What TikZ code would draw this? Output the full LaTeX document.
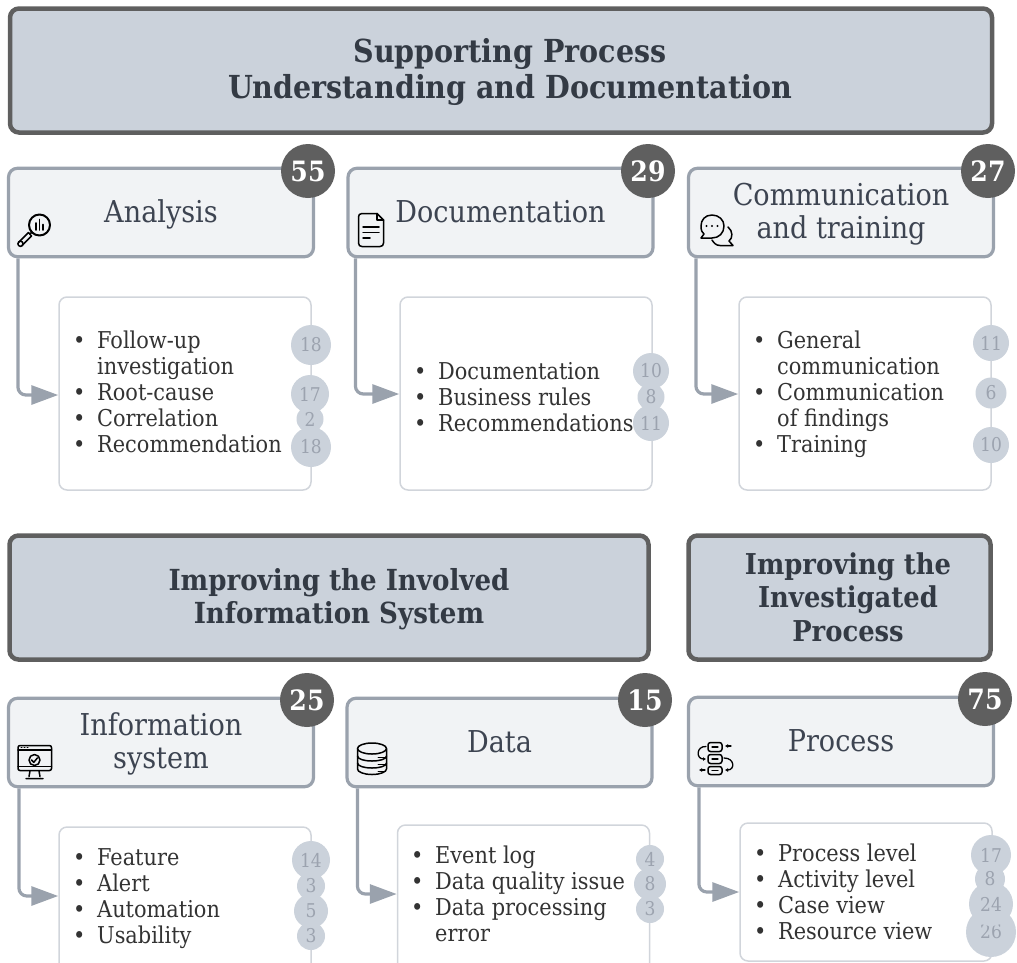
\documentclass[tikz,border=0pt]{standalone}
\usepackage{fontspec}
\setmainfont{DejaVu Serif Condensed}
\usetikzlibrary{arrows.meta}
\definecolor{headfill}{HTML}{CBD2DB}
\definecolor{headline}{HTML}{5F5F5F}
\definecolor{headtxt}{HTML}{333A44}
\definecolor{cardfill}{HTML}{F1F3F5}
\definecolor{cardline}{HTML}{9AA2AD}
\definecolor{cardtxt}{HTML}{3D4451}
\definecolor{listline}{HTML}{D1D5DB}
\definecolor{listtxt}{HTML}{333333}
\definecolor{pilltxt}{HTML}{9CA3AF}
\tikzset{
  headbox/.style={draw=headline,fill=headfill,line width=4.5pt,rounded corners=9pt,inner sep=0pt},
  headtext/.style 2 args={text=headtxt,align=center,inner sep=0pt,font=\fontsize{#1}{#2}\bfseries\selectfont},
  cardbox/.style={draw=cardline,fill=cardfill,line width=3.2pt,rounded corners=9pt,minimum width=305pt,minimum height=88.5pt,inner sep=0pt,text=cardtxt,align=center,font=\fontsize{30.1}{33.5}\selectfont},
  countdot/.style={circle,fill=headline,minimum size=54pt,inner sep=0pt,text=white,font=\fontsize{28}{30}\bfseries\selectfont},
  listbox/.style={draw=listline,fill=white,line width=1.5pt,rounded corners=8pt,inner sep=0pt},
  listitem/.style={anchor=west,inner sep=0pt,align=left,text=listtxt,yshift=-2pt,font=\fontsize{23.2}{26}\selectfont},
  pill/.style={circle,fill=headfill,minimum size=#1,inner sep=0pt,text=pilltxt,font=\fontsize{19}{22}\selectfont},
  conn/.style={draw=cardline,line width=3.2pt,rounded corners=8pt,-{Triangle[length=27pt,width=19pt]}},
  icon/.style={draw=black,line width=1.5pt,line cap=round,line join=round,fill=none},
}
\newcommand{\bul}{\makebox[22pt][l]{\hspace*{-2pt}\textbullet}}
\newcommand{\ind}{\hspace*{22pt}}
\newcommand{\tstr}{\rule[-10.05pt]{0pt}{39.5pt}}
\begin{document}
\begin{tikzpicture}[x=1pt,y=-1pt]
\clip (0,0) rectangle (1017,962);
\useasboundingbox (0,0) rectangle (1017,962);
% headers
\node[headbox,minimum width=982pt,minimum height=124pt] (h1) at (501,70.5) {};
\node[headtext={31.7}{36.5}] (h1t) at (510,72) {Supporting Process\\Understanding and Documentation};
\node[headbox,minimum width=639pt,minimum height=124pt] (h2) at (329,597.5) {};
\node[headtext={29}{33.5}] (h2t) at (339,599) {Improving the Involved\\Information System};
\node[headbox,minimum width=302pt,minimum height=124pt] (h3) at (839.5,597.5) {};
\node[headtext={28.7}{33.5}] (h3t) at (848,597) {Improving the\\Investigated\\Process};
% list boxes
\node[listbox,minimum width=252pt,minimum height=193pt] (l1) at (185,393.5) {};
\node[listbox,minimum width=252pt,minimum height=193pt] (l2) at (526,393.5) {};
\node[listbox,minimum width=252pt,minimum height=193pt] (l3) at (865,393.5) {};
\node[listbox,minimum width=252pt,minimum height=170pt] (l4) at (185,912) {};
\node[listbox,minimum width=252pt,minimum height=170pt] (l5) at (523.5,910) {};
\node[listbox,minimum width=252pt,minimum height=138pt] (l6) at (866,892) {};
% cards
\node[cardbox] (c1) at (161,212.5) {\tstr Analysis};
\node[cardbox] (c2) at (500.5,212.5) {\tstr Documentation};
\node[cardbox] (c3) at (841,212.5) {\tstr Communication\\\strut and training};
\node[cardbox] (c4) at (161,742.5) {\tstr Information\\\strut system};
\node[cardbox] (c5) at (499.5,742.5) {\tstr Data};
\node[cardbox] (c6) at (841,741.5) {\tstr Process};
% connectors
\coordinate (a1) at (l1.west|-0,395);
\coordinate (a2) at (l2.west|-0,394);
\coordinate (a3) at (l3.west|-0,394);
\coordinate (a4) at (l4.west|-0,896);
\coordinate (a5) at (l5.west|-0,894);
\coordinate (a6) at (l6.west|-0,892);
\draw[conn] ([xshift=11pt]c1.south west) |- (a1);
\draw[conn] ([xshift=9pt]c2.south west) |- (a2);
\draw[conn] ([xshift=9pt]c3.south west) |- (a3);
\draw[conn] ([xshift=12pt]c4.south west) |- (a4);
\draw[conn] ([xshift=12pt]c5.south west) |- (a5);
\draw[conn] ([xshift=12pt]c6.south west) |- (a6);
% count dots
\node[countdot] (n1) at (308,171) {55};
\node[countdot] (n2) at (648,171) {29};
\node[countdot] (n3) at (988,171) {27};
\node[countdot] (n4) at (307,700) {25};
\node[countdot] (n5) at (645,700) {15};
\node[countdot] (n6) at (985,699) {75};
% list items
\node[listitem] (i11) at (75,354) {\bul\strut Follow-up\\\ind\strut investigation};
\node[listitem] (i12) at (75,393) {\bul\strut Root-cause};
\node[listitem] (i13) at (75,419) {\bul\strut Correlation};
\node[listitem] (i14) at (75,445) {\bul\strut Recommendation};
\node[listitem] (i21) at (416,372) {\bul\strut Documentation};
\node[listitem] (i22) at (416,398) {\bul\strut Business rules};
\node[listitem] (i23) at (416,424) {\bul\strut Recommendations};
\node[listitem] (i31) at (755,354) {\bul\strut General\\\ind\strut communication};
\node[listitem] (i32) at (755,406) {\bul\strut Communication\\\ind\strut of findings};
\node[listitem] (i33) at (755,445) {\bul\strut Training};
\node[listitem] (i41) at (75,858) {\bul\strut Feature};
\node[listitem] (i42) at (75,884) {\bul\strut Alert};
\node[listitem] (i43) at (75,910) {\bul\strut Automation};
\node[listitem] (i44) at (75,936) {\bul\strut Usability};
\node[listitem] (i51) at (413,856) {\bul\strut Event log};
\node[listitem] (i52) at (413,882) {\bul\strut Data quality issue};
\node[listitem] (i53) at (413,921) {\bul\strut Data processing\\\ind\strut error};
\node[listitem] (i61) at (756,854) {\bul\strut Process level};
\node[listitem] (i62) at (756,880) {\bul\strut Activity level};
\node[listitem] (i63) at (756,906) {\bul\strut Case view};
\node[listitem] (i64) at (756,932) {\bul\strut Resource view};
% pills: larger ones first, so that every number stays visible
\node[pill=40pt] (p11) at (311,345) {18};
\node[pill=38pt] (p12) at (310,394) {17};
\node[pill=40pt] (p14) at (311,447) {18};
\node[pill=27pt] (p13) at (310,419) {2};
\node[pill=36pt] (p21) at (651,371) {10};
\node[pill=36pt] (p23) at (651,423) {11};
\node[pill=27pt] (p22) at (651,397) {8};
\node[pill=36pt] (p31) at (991,343) {11};
\node[pill=31pt] (p32) at (991,393) {6};
\node[pill=36pt] (p33) at (991,445) {10};
\node[pill=38pt] (p41) at (311,860) {14};
\node[pill=34pt] (p43) at (311,911) {5};
\node[pill=28pt] (p42) at (311,886) {3};
\node[pill=28pt] (p44) at (311,936) {3};
\node[pill=32pt] (p52) at (650,884) {8};
\node[pill=28pt] (p51) at (650,859) {4};
\node[pill=28pt] (p53) at (650,909) {3};
\node[pill=50pt] (p64) at (991,932) {26};
\node[pill=44pt] (p63) at (991,904) {24};
\node[pill=40pt] (p61) at (991,855) {17};
\node[pill=30pt] (p62) at (990,879) {8};
% icon: magnifier
\draw[icon,line width=2pt] (39.5,225) circle (10.5);
\draw[icon,line width=1.8pt] (36,223) -- (36,230) (39.5,219.5) -- (39.5,230) (43,224.5) -- (43,230);
\draw[icon] (32,232) -- (30,234);
\draw[icon] (28.5,232.5) -- (19,242) (22,245.5) -- (31.5,236) (28.5,232.5) -- (31.5,236);
\draw[icon] (20.5,243.8) circle (2.6);
% icon: document
\draw[icon] (377,213.5) -- (362,213.5) .. controls (359.5,213.5) and (358.5,215) .. (358.5,217) -- (358.5,243) .. controls (358.5,245.5) and (360,246.5) .. (362,246.5) -- (380,246.5) .. controls (382.5,246.5) and (383.5,245) .. (383.5,243) -- (383.5,220) -- (377,213.5);
\draw[icon] (377,213.5) -- (377,220) -- (383.5,220);
\draw[icon] (363,227) -- (379,227) (363,232.5) -- (379,232.5) (363,238) -- (370,238);
% icon: chat
\draw[icon] (712,215) .. controls (705,215) and (701,220) .. (701,226) .. controls (701,230) and (702,233) .. (704,234) -- (701,238) -- (712,238) .. controls (719,238) and (724,233) .. (724,226) .. controls (724,220) and (719,215) .. (712,215);
\fill (706.5,226) circle (1.2) (712,226) circle (1.2) (717.5,226) circle (1.2);
\draw[icon] (728,227) .. controls (733,231) and (733,238) .. (729,241) -- (733,245.5) -- (720,245.5) .. controls (716,245.5) and (714,243) .. (712,240);
% icon: monitor
\draw[icon,rounded corners=2pt] (18,745.5) rectangle (51.5,770.5);
\draw[icon] (18,750) -- (51.5,750) (18,766.5) -- (51.5,766.5);
\draw[icon] (34.5,760) circle (5.5);
\draw[icon] (31.5,760) -- (33.8,762.3) -- (37.5,757.8);
\draw[icon] (30,771) -- (29,776.5) (39,771) -- (40,776.5) (26,778.5) -- (43,778.5);
\draw[icon,line width=1pt] (21,747.8) -- (22,747.8) (24,747.8) -- (25,747.8) (27,747.8) -- (28,747.8);
% icon: database
\draw[icon] (372,748.5) ellipse (14.5 and 5.5);
\draw[icon] (357.5,748.5) -- (357.5,769) .. controls (357.5,772) and (364,774.5) .. (372,774.5) .. controls (380,774.5) and (386.5,772) .. (386.5,769) -- (386.5,748.5);
\draw[icon] (357.5,756) .. controls (357.5,759) and (364,761) .. (372,761) .. controls (380,761) and (386.5,759) .. (386.5,756);
\draw[icon] (357.5,763) .. controls (357.5,766) and (364,768) .. (372,768) .. controls (380,768) and (386.5,766) .. (386.5,763);
\draw[icon,line width=1pt] (378,757.5) -- (385,757.5) (378,764.5) -- (385,764.5) (378,771) -- (385,771);
% icon: process
\draw[icon,rounded corners=2.5pt] (708,742.5) rectangle (722,751.5);
\draw[icon,rounded corners=2.5pt] (708,754.5) rectangle (722,763.5);
\draw[icon,rounded corners=2.5pt] (708,766.5) rectangle (722,774.5);
\draw[icon,line width=1.2pt] (712,747) -- (718,747) (712,759) -- (718,759) (712,770.5) -- (718,770.5);
\draw[icon,line width=1.3pt,-{Latex[length=3pt,width=4pt]}] (731,746) -- (725,746);
\draw[icon,line width=1.3pt,-{Latex[length=3pt,width=4pt]}] (705,770) -- (699,770);
\draw[icon,line width=1.3pt,-{Latex[length=3pt,width=4pt]}] (706,746.5) .. controls (696,746) and (696,759) .. (706,759);
\draw[icon,line width=1.3pt,-{Latex[length=3pt,width=4pt]}] (724,758) .. controls (735,758) and (735,770) .. (725,770);
\end{tikzpicture}
\end{document}
